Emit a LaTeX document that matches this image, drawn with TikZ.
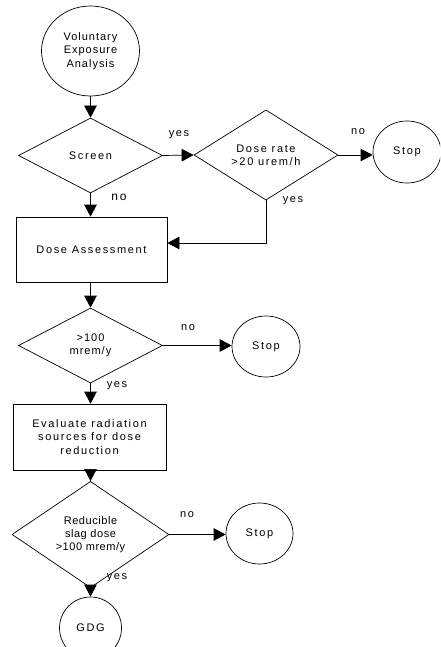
\documentclass[tikz,border=0pt]{standalone}
\usepackage{fontspec}
\setmainfont{Liberation Sans}
\usetikzlibrary{shapes.geometric,arrows.meta}
\newfontfamily\widefont[LetterSpace=15]{Liberation Sans}
\newfontfamily\midfont[LetterSpace=9]{Liberation Sans}
\newfontfamily\narfont[LetterSpace=5]{Liberation Sans}
\tikzset{
  base/.style={draw, line width=0.7pt, inner sep=0pt, align=center, font=\fontsize{11}{13.3}\widefont},
  oval/.style={base, ellipse},
  dec/.style={base, diamond},
  box/.style={base, rectangle},
  lbl/.style={inner sep=0pt, font=\fontsize{11}{12}\widefont},
  arr/.style={line width=0.7pt, -{Triangle[length=12pt,width=12.5pt]}},
  ln/.style={line width=0.7pt}
}
\begin{document}
\begin{tikzpicture}[x=1pt,y=-1pt]
\clip (0,0) rectangle (440,647);
\node[oval, minimum width=98pt, minimum height=90pt, font=\fontsize{11}{13.3}\midfont] (start) at (90.5,51) {Voluntary\\Exposure\\Analysis};
\node[dec, minimum width=144pt, minimum height=75pt] (screen) at (90.5,155.5) {Screen};
\node[dec, minimum width=144pt, minimum height=76pt] (dr) at (266,155) {Dose rate\\>20 urem/h};
\node[oval, minimum width=68pt, minimum height=62pt] (stopa) at (407,152) {Stop};
\node[box, minimum width=151pt, minimum height=65pt] (da) at (91.5,249.5) {Dose Assessment};
\node[dec, minimum width=144pt, minimum height=75pt, font=\fontsize{11}{13.3}\midfont] (dhun) at (90.5,345.5) {>100\\mrem/y};
\node[oval, minimum width=68pt, minimum height=61pt] (stopb) at (266,346.5) {Stop};
\node[box, minimum width=153pt, minimum height=66pt] (eval) at (89.5,437) {Evaluate radiation\\sources for dose\\reduction};
\node[dec, minimum width=157pt, minimum height=83pt, font=\fontsize{11}{13.3}\narfont] (red) at (90.5,534.5) {Reducible\\slag dose\\>100 mrem/y};
\node[oval, minimum width=67pt, minimum height=61pt] (stopc) at (259.5,533.5) {Stop};
\node[oval, minimum width=62pt, minimum height=62pt] (gdg) at (90.5,628) {GDG};
% connectors
\draw[arr] (start.south) -- (screen.north);
\draw[arr] (screen.east) -- (dr.west);
\draw[arr] (dr.east) -- (stopa.west |- dr.east);
\draw[arr] (screen.south) -- (screen.south |- da.north);
\draw[arr] (dr.south) |- ([yshift=6.5pt]da.east);
\draw[arr] (da.south -| dhun.north) -- (dhun.north);
\draw[arr] (dhun.east) -- (stopb.west |- dhun.east);
\draw[arr] (dhun.south) -- (dhun.south |- eval.north);
\draw[arr] (eval.south -| red.north) -- (red.north);
\draw[arr] (red.east) -- (stopc.west |- red.east);
\draw[arr] (red.south) -- (gdg.north);
% labels
\node[lbl] (l1) at (179,135) {yes};
\node[lbl] (l2) at (358,132) {no};
\node[lbl] (l3) at (293,201) {yes};
\node[lbl, font=\fontsize{12}{12}\widefont] (l4) at (119,197) {no};
\node[lbl] (l5) at (188,328) {no};
\node[lbl] (l6) at (117,386) {yes};
\node[lbl] (l7) at (187,515) {no};
\node[lbl] (l8) at (117,578) {yes};
\end{tikzpicture}
\end{document}
